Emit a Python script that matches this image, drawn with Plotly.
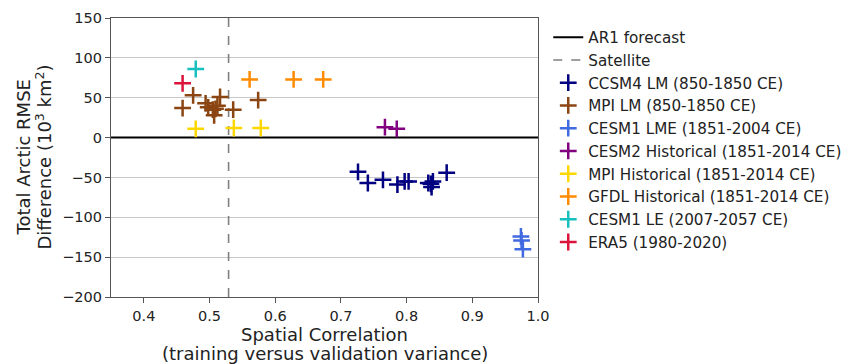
import plotly.graph_objects as go

# Data
ccsm4_x = [0.726, 0.741, 0.764, 0.786, 0.797, 0.803, 0.833, 0.840, 0.838, 0.861, 0.837]
ccsm4_y = [-43, -57, -53, -59, -55, -55, -57, -55, -62, -44, -58]
mpi_lm_x = [0.475, 0.459, 0.516, 0.574, 0.536, 0.494, 0.498, 0.505, 0.509, 0.507, 0.512]
mpi_lm_y = [53, 37, 51, 47, 35, 43, 38, 35, 36, 28, 40]
cesm1_lme_x = [0.974, 0.975, 0.977]
cesm1_lme_y = [-124, -129, -140]
cesm2_x = [0.767, 0.785]
cesm2_y = [13, 11]
mpi_hist_x = [0.479, 0.537, 0.578]
mpi_hist_y = [11, 12, 12]
gfdl_x = [0.561, 0.628, 0.673]
gfdl_y = [73, 73, 73]
cesm1_le_x = [0.479]
cesm1_le_y = [86]
era5_x = [0.459]
era5_y = [68]

satellite_corr = 0.529
x_range = [0.35, 1.0]
y_range = [-200, 150]
x_ticks = [0.4, 0.5, 0.6, 0.7, 0.8, 0.9, 1.0]
y_ticks = [-200, -150, -100, -50, 0, 50, 100, 150]

series = [
    ("CCSM4 LM (850-1850 CE)", ccsm4_x, ccsm4_y, "#000080"),
    ("MPI LM (850-1850 CE)", mpi_lm_x, mpi_lm_y, "#8B4513"),
    ("CESM1 LME (1851-2004 CE)", cesm1_lme_x, cesm1_lme_y, "#4169E1"),
    ("CESM2 Historical (1851-2014 CE)", cesm2_x, cesm2_y, "#800080"),
    ("MPI Historical (1851-2014 CE)", mpi_hist_x, mpi_hist_y, "#FFD700"),
    ("GFDL Historical (1851-2014 CE)", gfdl_x, gfdl_y, "#FF8C00"),
    ("CESM1 LE (2007-2057 CE)", cesm1_le_x, cesm1_le_y, "#17BFBF"),
    ("ERA5 (1980-2020)", era5_x, era5_y, "#DC143C"),
]

fig = go.Figure()

fig.add_trace(go.Scatter(
    x=x_range, y=[0, 0], mode="lines", name="AR1 forecast",
    line=dict(color="black", width=2), legendgroup="g0",
))
fig.add_trace(go.Scatter(
    x=[satellite_corr, satellite_corr], y=y_range, mode="lines", name="Satellite",
    line=dict(color="gray", width=1.6, dash="dash"), legendgroup="g1",
))

for i, (name, xs, ys, col) in enumerate(series):
    fig.add_trace(go.Scatter(
        x=xs, y=ys, mode="markers", name=name, legendgroup=f"s{i}",
        marker=dict(symbol="cross-thin", size=12, line=dict(color=col, width=2.5), color=col),
    ))

title_font = dict(family="DejaVu Sans", size=18, color="#222222")
annotations = [
    dict(text="Spatial Correlation", xref="paper", yref="paper", x=0.5, y=-0.135,
         xanchor="center", yanchor="middle", showarrow=False, font=title_font),
    dict(text="(training versus validation variance)", xref="paper", yref="paper", x=0.5, y=-0.203,
         xanchor="center", yanchor="middle", showarrow=False, font=title_font),
    dict(text="Total Arctic RMSE", xref="paper", yref="paper", x=-0.206, y=0.5,
         xanchor="center", yanchor="middle", showarrow=False, textangle=-90, font=title_font),
    dict(text="Difference (10<sup>3</sup> km<sup>2</sup>)", xref="paper", yref="paper", x=-0.159, y=0.5,
         xanchor="center", yanchor="middle", showarrow=False, textangle=-90, font=title_font),
]

# the page body adds an 8px offset, so the figure is 8px smaller than the window
fig.update_layout(
    width=849, height=356,
    margin=dict(l=103, r=319, t=10, b=67, autoexpand=False),
    paper_bgcolor="white", plot_bgcolor="white",
    font=dict(family="DejaVu Sans", size=14.5, color="#222222"),
    showlegend=True,
    annotations=annotations,
    legend=dict(
        x=1.024, y=0.99, xanchor="left", yanchor="top",
        font=dict(size=15.2, color="#222222"),
        tracegroupgap=0, traceorder="grouped",
        bgcolor="rgba(0,0,0,0)",
    ),
    xaxis=dict(
        range=x_range, tickvals=x_ticks, ticktext=[f"{v:.1f}" for v in x_ticks],
        showgrid=False, zeroline=False, automargin=False,
        showline=True, linecolor="#555555", linewidth=1.2, mirror=True,
        ticks="outside", ticklen=5, tickcolor="#555555",
    ),
    yaxis=dict(
        range=y_range, tickvals=y_ticks,
        showgrid=True, gridcolor="#c8c8c8", gridwidth=1, zeroline=False, automargin=False,
        showline=True, linecolor="#555555", linewidth=1.2, mirror=True,
        ticks="outside", ticklen=5, tickcolor="#555555",
    ),
)

fig.write_html("out.html")
